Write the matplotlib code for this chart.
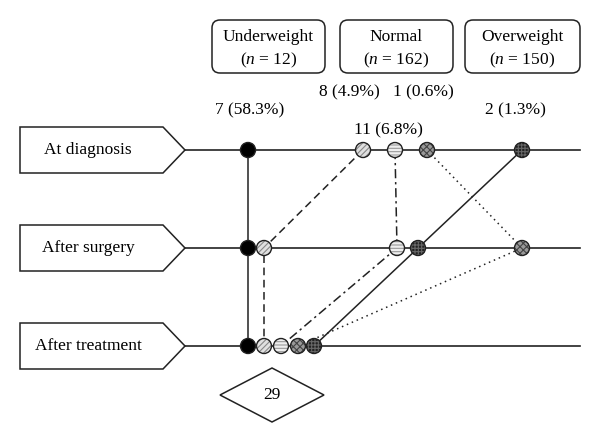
import matplotlib.pyplot as plt
from matplotlib.patches import Circle, FancyBboxPatch, Polygon
import matplotlib as mpl

plt.rcParams['font.family'] = ['Liberation Serif', 'DejaVu Serif']
mpl.rcParams['mathtext.fontset'] = 'custom'
mpl.rcParams['mathtext.it'] = 'Liberation Serif:italic'
mpl.rcParams['mathtext.rm'] = 'Liberation Serif'
mpl.rcParams['hatch.linewidth'] = 0.8

# data
stages = ['At diagnosis', 'After surgery', 'After treatment']
groups = ['Underweight', 'Normal', 'Overweight']
group_n = [12, 162, 150]
change_labels = ['7 (58.3%)', '8 (4.9%)', '1 (0.6%)', '11 (6.8%)', '2 (1.3%)']
total_label = '29'

# layout (pixel coords)
row_y = [150, 248, 346]
# node x per row, one entry per patient path
paths = {
    'under':   [248, 248, 248],
    'norm8':   [363, 264, 264],
    'norm1':   [395, 397, 281],
    'norm11':  [427, 522, 298],
    'over2':   [522, 418, 314],
}
styles = {
    'under':  dict(ls='-', fc='black', hatch=None, hc='black'),
    'norm8':  dict(ls=(0, (5, 3)), fc='#e0e0e0', hatch='//////', hc='#888888'),
    'norm1':  dict(ls=(0, (6, 2.5, 1.5, 2.5)), fc='#eeeeee', hatch='-----', hc='#999999'),
    'norm11': dict(ls=(0, (1, 2.5)), fc='#999999', hatch='xxxxx', hc='#444444'),
    'over2':  dict(ls='-', fc='#222222', hatch='+++++', hc='#666666'),
}

FS = 12.5

fig = plt.figure(figsize=(6, 4.43), dpi=100)
ax = fig.add_axes([0, 0, 1, 1])
ax.set_xlim(0, 600)
ax.set_ylim(443, 0)
ax.axis('off')

# stage boxes and horizontal lines
for name, y in zip(stages, row_y):
    pent = Polygon([(20, y - 23), (163, y - 23), (185, y), (163, y + 23), (20, y + 23)],
                   closed=True, fc='white', ec='#222222', lw=1.1, zorder=2)
    ax.add_patch(pent)
    ax.text(88, y, name, ha='center', va='center', fontsize=FS)
    ax.plot([185, 580], [y, y], color='#222222', lw=1.2, zorder=1)

# group boxes
box_x = [(212, 325), (340, 453), (465, 580)]
for g, n, (x0, x1) in zip(groups, group_n, box_x):
    b = FancyBboxPatch((x0, 20), x1 - x0, 53, boxstyle='round,pad=0,rounding_size=8',
                       fc='white', ec='#222222', lw=1.1)
    ax.add_patch(b)
    ax.text((x0 + x1) / 2, 37, g, ha='center', va='center', fontsize=FS)
    ax.text((x0 + x1) / 2, 60, '($n$ = %d)' % n, ha='center', va='center', fontsize=FS)

# counts
label_pos = [(250, 110), (349, 92), (423, 92), (388, 130), (515, 110)]
for t, (x, y) in zip(change_labels, label_pos):
    ax.text(x, y, t, ha='center', va='center', fontsize=FS)

# connecting paths
for key, xs in paths.items():
    s = styles[key]
    ax.plot(xs, row_y, color='#222222', lw=1.1, ls=s['ls'], zorder=3)

# nodes
for key, xs in paths.items():
    s = styles[key]
    for x, y in zip(xs, row_y):
        c = Circle((x, y), 7.5, fc=s['fc'], ec=s['hc'], lw=0, hatch=s['hatch'], zorder=4)
        ax.add_patch(c)
        ax.add_patch(Circle((x, y), 7.5, fc='none', ec='#222222', lw=1.0, zorder=5))

# total diamond
cx, cy = 272, 395
dia = Polygon([(cx - 52, cy), (cx, cy - 27), (cx + 52, cy), (cx, cy + 27)],
              closed=True, fc='white', ec='#222222', lw=1.1)
ax.add_patch(dia)
ax.text(cx, cy, total_label, ha='center', va='center', fontsize=FS)

fig.savefig('out.png', dpi=100)
